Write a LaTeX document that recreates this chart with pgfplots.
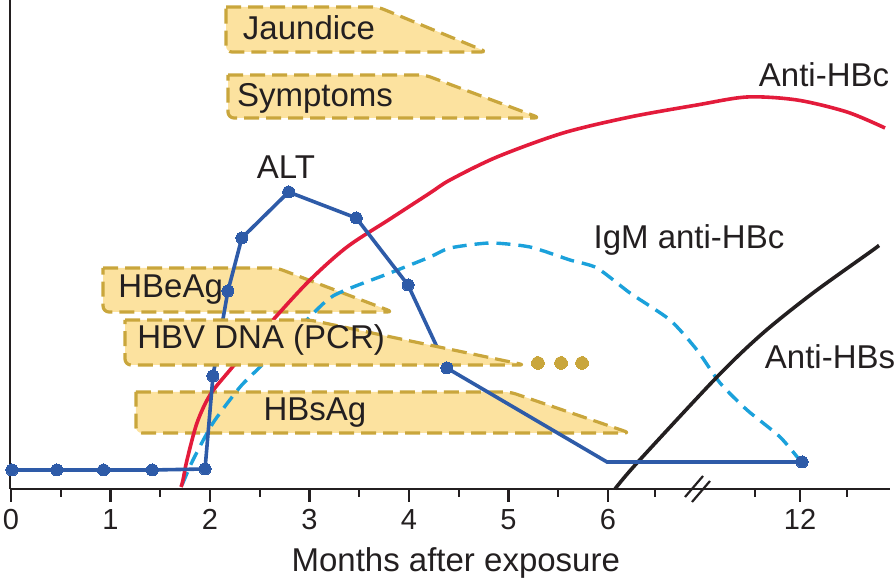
\documentclass[border=0pt]{standalone}
\usepackage{pgfplots}
\pgfplotsset{compat=1.18}
\usepackage{fontspec}
\setmainfont{Liberation Sans}
\definecolor{txt}{HTML}{231F20}
\definecolor{altblue}{HTML}{2E5BA8}
\definecolor{hbcred}{HTML}{E31B3B}
\definecolor{igmblue}{HTML}{1BA1DB}
\definecolor{yfill}{HTML}{FCE29F}
\definecolor{ydraw}{HTML}{C9A63C}
\begin{document}
\begin{tikzpicture}
\useasboundingbox (0,0) rectangle (448pt,291.5pt);
\begin{axis}[
  at={(5pt,47pt)}, anchor=south west,
  scale only axis, width=440pt, height=244.5pt,
  xmin=-0.01, xmax=8.834, ymin=0, ymax=489,
  axis x line=bottom, axis y line=left,
  x axis line style={-, line width=1.3pt, color=txt},
  y axis line style={-, line width=1pt, color=txt},
  ytick=\empty,
  xtick={0,1,2,3,4,5,6,7.93},
  xticklabels={0,1,2,3,4,5,6,12},
  minor xtick={0.5,1.5,2.5,3.5,4.5,5.5,6.47,7.48,8.40},
  tick align=outside,
  major tick length=6.5pt, minor tick length=4pt,
  every tick/.style={line width=1.1pt, color=txt},
  /pgf/number format/assume math mode=true,
  xticklabel style={font=\fontsize{14.5}{17}\selectfont, text=txt},
  xlabel={Months after exposure},
  xlabel style={at={(axis cs:4.47,-74)}, anchor=center, font=\fontsize{16.5}{19}\selectfont, text=txt},
  clip=false,
  shape/.style={fill=yfill, draw=ydraw, line width=1.6pt, dash pattern=on 7.5pt off 3.5pt, line join=round, rounded corners=3pt},
]
% yellow bands (behind curves)
\addplot[shape] coordinates {(2.161,482) (3.688,482) (4.784,437) (2.161,437) (2.161,482)};
\addplot[shape] coordinates {(2.181,414) (4.161,414) (5.317,371) (2.181,371) (2.181,414)};
\addplot[shape] coordinates {(0.925,221) (2.673,221) (3.839,177) (0.925,177) (0.925,221)};
\addplot[shape] coordinates {(1.256,97) (5.015,97) (6.221,56) (1.256,56) (1.256,97)};
% IgM anti-HBc
\addplot[igmblue, line width=1.7pt, dash pattern=on 7pt off 4pt, smooth, tension=0.4] coordinates {
(1.719,4) (1.829,29) (2.030,66) (2.302,102) (2.503,122) (2.905,162) (3.236,193) (3.809,216) (4.211,232) (4.412,241) (4.814,246) (5.216,242) (5.618,229) (5.889,221) (6.221,196) (6.623,169) (6.894,139) (7.126,106) (7.397,79) (7.729,52) (7.950,26)};
% Anti-HBc
\addplot[hbcred, line width=1.8pt, smooth, tension=0.5] coordinates {
(1.709,2) (1.729,9) (1.769,29) (1.869,66) (2.000,94) (2.201,119) (2.633,169) (3.005,209) (3.377,242) (3.809,270) (4.211,296) (4.412,309) (4.884,332) (5.548,356) (6.221,372) (6.894,384) (7.397,392) (7.899,389) (8.402,377) (8.784,361)};
% Anti-HBs
\addplot[txt, line width=1.8pt, smooth, tension=0.5] coordinates {
(6.070,0) (6.291,26) (7.095,112) (7.558,156) (8.060,196) (8.663,239) (8.714,243)};
% ALT
\addplot[altblue, line width=1.8pt, mark=*, mark size=3pt, mark options={fill=altblue, draw=altblue, line width=0pt}, mark indices={1,2,3,4,5,6,7,8,9,10,11,12,14}] coordinates {
(0.01,19) (0.46,19) (0.93,19) (1.42,19) (1.95,20) (2.03,113) (2.18,198) (2.32,251) (2.79,297) (3.47,271) (3.99,204) (4.38,121) (5.99,27) (7.95,27)};
% HBV DNA band (over curves)
\addplot[shape] coordinates {(1.146,169) (3.005,169) (5.166,124) (1.146,124) (1.146,169)};
\addplot[only marks, mark=*, mark size=3.2pt, ydraw, mark options={line width=0pt}] coordinates {(5.296,126) (5.528,126) (5.739,126)};
% axis break
\draw[txt, line width=1.1pt] (axis cs:6.774,-8) -- (axis cs:6.955,13);
\draw[txt, line width=1.1pt] (axis cs:6.844,-13) -- (axis cs:7.025,8);
% labels
\begin{scope}[every node/.style={font=\fontsize{16.5}{19}\selectfont, text=txt, inner sep=0pt}]
\node at (axis cs:2.995,461) {Jaundice};
\node at (axis cs:3.055,391) {Symptoms};
\node at (axis cs:2.764,322) {ALT};
\node[anchor=west] at (axis cs:1.075,199) {HBeAg};
\node[anchor=west] at (axis cs:1.266,149) {HBV DNA (PCR)};
\node at (axis cs:3.055,76) {HBsAg};
\node at (axis cs:8.171,414) {Anti-HBc};
\node at (axis cs:6.814,249) {IgM anti-HBc};
\node at (axis cs:8.231,132) {Anti-HBs};
\end{scope}
\end{axis}
\end{tikzpicture}
\end{document}
